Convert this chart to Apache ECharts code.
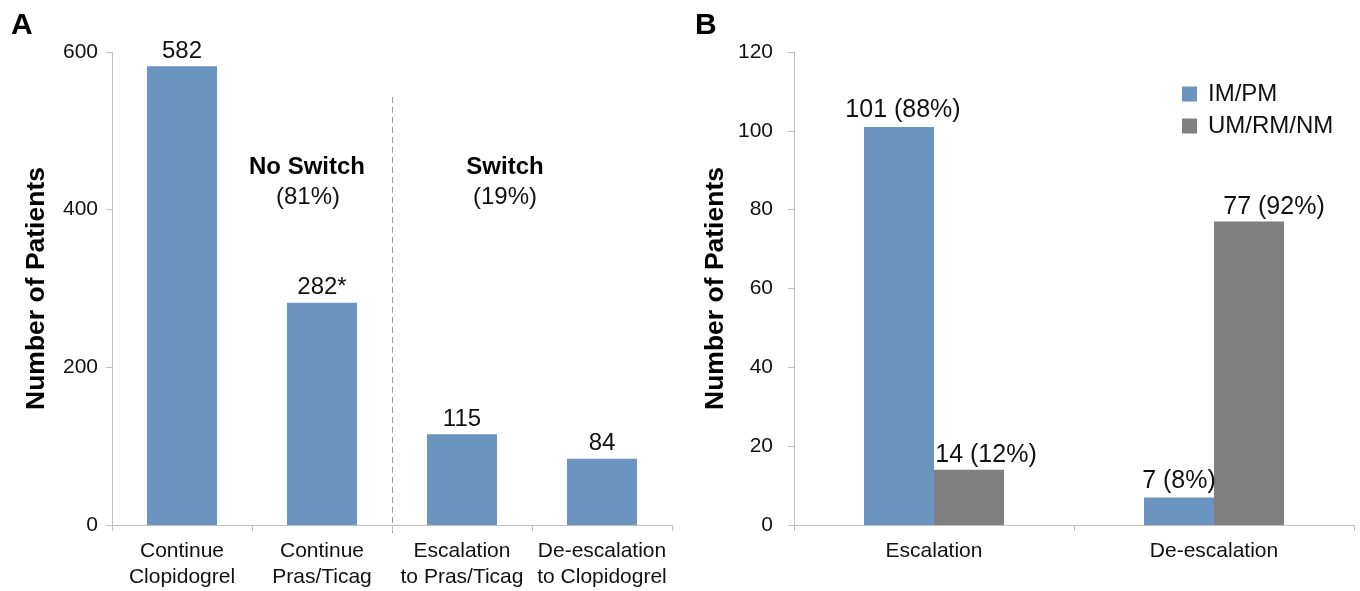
<!DOCTYPE html>
<html>
<head>
<meta charset="utf-8">
<script src="https://cdn.jsdelivr.net/npm/echarts@6/dist/echarts.min.js"></script>
<style>
html,body{margin:0;padding:0;background:#fff;}
#chart{width:1360px;height:591px;}
</style>
</head>
<body>
<div id="chart"></div>
<script>
// ---- Data ----
const categoriesA = ['Continue\nClopidogrel', 'Continue\nPras/Ticag', 'Escalation\nto Pras/Ticag', 'De-escalation\nto Clopidogrel'];
const valuesA = [582, 282, 115, 84];
const labelsA = ['582', '282*', '115', '84'];
const ticksA = { min: 0, max: 600, interval: 200 };

const categoriesB = ['Escalation', 'De-escalation'];
const seriesNamesB = ['IM/PM', 'UM/RM/NM'];
const valuesIMPM = [101, 7];
const valuesUMRMNM = [14, 77];
const labelsIMPM = ['101 (88%)', '7 (8%)'];
const labelsUMRMNM = ['14 (12%)', '77 (92%)'];
const ticksB = { min: 0, max: 120, interval: 20 };

const groupLabels = [['No Switch', '(81%)'], ['Switch', '(19%)']];
const yAxisTitle = 'Number of Patients';

// ---- Styles ----
const FONT = '"Liberation Sans", Arial, sans-serif';
const BLUE = '#6b94c0';
const GRAY = '#808080';
const AXIS = '#bfbfbf';
const TXT = '#111';

const offIMPM = [4, 0];
const offUM = [17, 25];

const chart = echarts.init(document.getElementById('chart'));

function yAxisCfg(grid, t, margin, gap) {
  return {
    type: 'value', gridIndex: grid, min: t.min, max: t.max, interval: t.interval,
    name: yAxisTitle, nameLocation: 'middle', nameGap: gap, nameRotate: 90,
    nameTextStyle: { fontFamily: FONT, fontWeight: 'bold', fontSize: 26.5, color: '#000' },
    axisLine: { show: true, lineStyle: { color: AXIS, width: 1 } },
    axisTick: { show: true, length: 6, lineStyle: { color: AXIS } },
    axisLabel: { fontFamily: FONT, fontSize: 21, color: TXT, margin: margin },
    splitLine: { show: false }
  };
}
function xAxisCfg(grid, cats) {
  return {
    type: 'category', gridIndex: grid, data: cats,
    axisLine: { show: true, lineStyle: { color: AXIS, width: 1 } },
    axisTick: { show: true, length: 6, alignWithLabel: false, lineStyle: { color: AXIS } },
    axisLabel: { fontFamily: FONT, fontSize: 21, color: TXT, margin: 13, lineHeight: 26, interval: 0 },
    splitLine: { show: false }
  };
}

const option = {
  animation: false,
  backgroundColor: '#fff',
  grid: [
    { left: 112, right: 688, top: 52, bottom: 66 },
    { left: 794, right: 6, top: 52, bottom: 66 }
  ],
  xAxis: [xAxisCfg(0, categoriesA), xAxisCfg(1, categoriesB)],
  yAxis: [yAxisCfg(0, ticksA, 14, 62), yAxisCfg(1, ticksB, 21, 65)],
  legend: {
    data: seriesNamesB, orient: 'vertical', left: 1182, top: 82, padding: 0,
    icon: 'rect', itemWidth: 15, itemHeight: 15, itemGap: 8,
    textStyle: { fontFamily: FONT, fontSize: 24, color: TXT, padding: [0, 0, 0, 6] }
  },
  series: [
    {
      type: 'bar', xAxisIndex: 0, yAxisIndex: 0, barWidth: '50%',
      itemStyle: { color: BLUE },
      data: valuesA.map((v, i) => ({ value: v, label: { formatter: labelsA[i] } })),
      label: { show: true, position: 'top', distance: 3, fontFamily: FONT, fontSize: 24, color: TXT }
    },
    {
      name: seriesNamesB[0], type: 'bar', xAxisIndex: 1, yAxisIndex: 1, barWidth: '25%', barGap: '0%',
      itemStyle: { color: BLUE },
      data: valuesIMPM.map((v, i) => ({ value: v, label: { formatter: labelsIMPM[i], offset: [offIMPM[i], 0] } })),
      label: { show: true, position: 'top', distance: 4, fontFamily: FONT, fontSize: 25, color: TXT }
    },
    {
      name: seriesNamesB[1], type: 'bar', xAxisIndex: 1, yAxisIndex: 1, barWidth: '25%', barGap: '0%',
      itemStyle: { color: GRAY },
      data: valuesUMRMNM.map((v, i) => ({ value: v, label: { formatter: labelsUMRMNM[i], offset: [offUM[i], 0] } })),
      label: { show: true, position: 'top', distance: 2, fontFamily: FONT, fontSize: 25, color: TXT }
    }
  ]
};
chart.setOption(option);

// Divider between "No Switch" and "Switch" groups and annotations, anchored to axis coordinates
const c1 = chart.convertToPixel({ xAxisIndex: 0 }, categoriesA[1]);
const c2 = chart.convertToPixel({ xAxisIndex: 0 }, categoriesA[2]);
const c3 = chart.convertToPixel({ xAxisIndex: 0 }, categoriesA[3]);
const divX = Math.round((c1 + c2) / 2) + 0.5;
const yTop = chart.convertToPixel({ yAxisIndex: 0 }, 543);
const yBot = chart.convertToPixel({ yAxisIndex: 0 }, -12);
const y1 = chart.convertToPixel({ yAxisIndex: 0 }, 454);
const y2 = chart.convertToPixel({ yAxisIndex: 0 }, 416);

chart.setOption({
  graphic: [
    { type: 'line', shape: { x1: divX, y1: yTop, x2: divX, y2: yBot },
      style: { stroke: '#9a9a9a', lineWidth: 1, lineDash: [6, 4] }, silent: true },
    { type: 'text', x: c1 - 15, y: y1, style: { text: groupLabels[0][0], font: 'bold 24px ' + FONT, fill: '#000', align: 'center', verticalAlign: 'middle' } },
    { type: 'text', x: c1 - 14, y: y2, style: { text: groupLabels[0][1], font: '24px ' + FONT, fill: TXT, align: 'center', verticalAlign: 'middle' } },
    { type: 'text', x: (c2 + c3) / 2 - 27, y: y1, style: { text: groupLabels[1][0], font: 'bold 24px ' + FONT, fill: '#000', align: 'center', verticalAlign: 'middle' } },
    { type: 'text', x: (c2 + c3) / 2 - 27, y: y2, style: { text: groupLabels[1][1], font: '24px ' + FONT, fill: TXT, align: 'center', verticalAlign: 'middle' } },
    { type: 'text', left: 11, top: 11, style: { text: 'A', font: 'bold 30px ' + FONT, fill: '#000' } },
    { type: 'text', left: 695, top: 11, style: { text: 'B', font: 'bold 30px ' + FONT, fill: '#000' } }
  ]
});
</script>
</body>
</html>
